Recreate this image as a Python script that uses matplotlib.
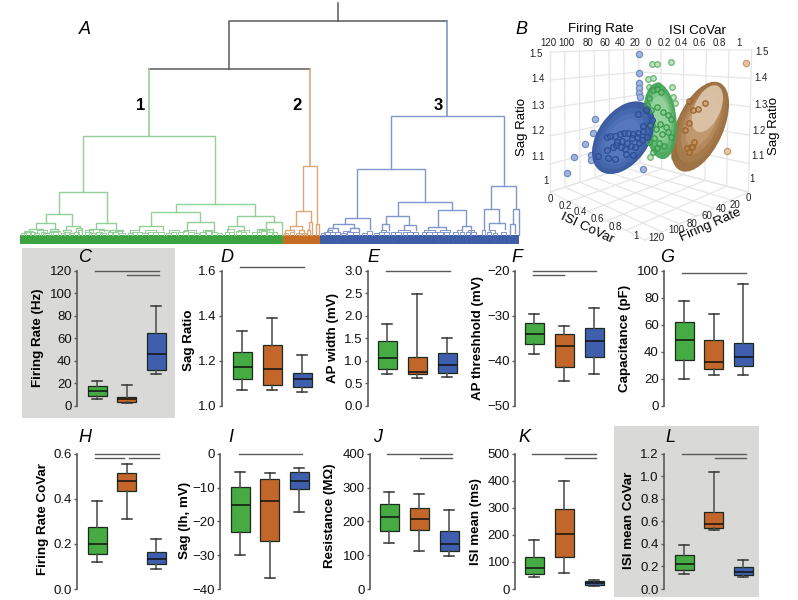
import numpy as np
import matplotlib
matplotlib.use('Agg')
import matplotlib.pyplot as plt
from matplotlib.patches import Ellipse, Rectangle

plt.rcParams['font.family'] = ['Liberation Sans', 'DejaVu Sans']

GREEN = '#45ab42'
ORANGE = '#c2662a'
BLUE = '#3f5fae'
GREEN_L = '#93cf98'
ORANGE_L = '#dca878'
BLUE_L = '#7f97cb'
GREY = '#5a5a5a'
PANEL_GREY = '#d9d9d8'

# box stats, one row per cluster: whisker low, q1, median, q3, whisker high
firing_rate = [[6.2, 9.2, 13.3, 17.4, 21.9], [2.7, 3.8, 6, 8, 18.9], [28.4, 32.2, 46.4, 64.4, 88.7]]
sag_ratio = [[1.069, 1.118, 1.173, 1.241, 1.331], [1.071, 1.093, 1.164, 1.272, 1.392], [1.062, 1.086, 1.118, 1.146, 1.228]]
ap_width = [[0.72, 0.83, 1.07, 1.45, 1.81], [0.61, 0.72, 0.75, 1.09, 2.48], [0.64, 0.74, 0.90, 1.17, 1.5]]
ap_threshold = [[-38.5, -36.3, -34, -31.5, -29.5], [-44.4, -41.3, -36.8, -34.1, -32.2], [-42.8, -39.1, -35.6, -32.6, -28.2]]
capacitance = [[20, 34, 48.5, 62.3, 77.6], [22.7, 27, 32.8, 49, 67.7], [23.2, 29.3, 36.5, 46.6, 90]]
fr_covar = [[0.121, 0.157, 0.2, 0.273, 0.39], [0.309, 0.436, 0.477, 0.513, 0.556], [0.09, 0.109, 0.132, 0.164, 0.223]]
sag_ih = [[-29.9, -23.2, -15.1, -9.7, -5.4], [-36.7, -25.7, -14.1, -7.5, -5.6], [-17.3, -10.5, -8.1, -5.4, -4.1]]
resistance = [[137, 172, 212, 251, 288], [112, 173, 206, 238, 281], [97, 112, 132, 170, 233]]
isi_mean = [[46, 55, 76, 117, 180], [59, 119, 202, 294, 399], [11, 16, 23, 30, 34]]
isi_covar = [[0.13, 0.171, 0.219, 0.304, 0.387], [0.52, 0.541, 0.576, 0.683, 1.04], [0.103, 0.124, 0.154, 0.192, 0.254]]

# letter, label, stats, ytick values, ytick labels, spine x, first box x, last box x, row, label x, label y
panels = [
    ('C', 'Firing Rate (Hz)', firing_rate, [0, 20, 40, 60, 80, 100, 120], ['0', '20', '40', '60', '80', '100', '120'], 77, 97, 156, 0, 38, 338),
    ('D', 'Sag Ratio', sag_ratio, [1.0, 1.2, 1.4, 1.6], ['1.0', '1.2', '1.4', '1.6'], 222, 242, 302, 0, 189, 340),
    ('E', 'AP width (mV)', ap_width, [0, 0.5, 1, 1.5, 2, 2.5, 3], ['0.0', '0.5', '1.0', '1.5', '2.0', '2.5', '3.0'], 368, 387, 447, 0, 333, 338),
    ('F', 'AP threshhold (mV)', ap_threshold, [-50, -40, -30, -20], ['\u221250', '\u221240', '\u221230', '\u221220'], 515, 534, 594, 0, 478, 338),
    ('G', 'Capacitance (pF)', capacitance, [0, 20, 40, 60, 80, 100], ['0', '20', '40', '60', '80', '100'], 664, 684, 743, 0, 625, 338),
    ('H', 'Firing Rate CoVar', fr_covar, [0, 0.2, 0.4, 0.6], ['0.0', '0.2', '0.4', '0.6'], 77, 97, 156, 1, 43, 519),
    ('I', 'Sag (Ih, mV)', sag_ih, [-40, -30, -20, -10, 0], ['\u221240', '\u221230', '\u221220', '\u221210', '0'], 220, 240, 299, 1, 185, 520),
    ('J', 'Resistance (M\u03a9)', resistance, [0, 100, 200, 300, 400], ['0', '100', '200', '300', '400'], 370, 389, 449, 1, 330, 516),
    ('K', 'ISI mean (ms)', isi_mean, [0, 100, 200, 300, 400, 500], ['0', '100', '200', '300', '400', '500'], 515, 534, 594, 1, 476, 522),
    ('L', 'ISI mean CoVar', isi_covar, [0, 0.2, 0.4, 0.6, 0.8, 1, 1.2], ['0.0', '0.2', '0.4', '0.6', '0.8', '1.0', '1.2'], 664, 684, 743, 1, 629, 520),
]
panel_letter_x = {'C': 85, 'D': 227, 'E': 373, 'F': 517, 'G': 667, 'H': 85, 'I': 231, 'J': 378, 'K': 524, 'L': 670}
row_top = [270.7, 453.7]
row_bottom = [406, 589]

# significance bars: x0, x1, y
sig_lines = [
    (95, 159, 270.7), (127, 159, 275), (240, 304, 267), (386, 450, 271),
    (532.5, 596, 271), (533, 564, 275), (682, 746, 273),
    (95, 159, 454), (95, 124, 457.8), (129, 159, 457.8), (239, 302, 454),
    (387, 452, 454), (420, 452, 458), (532, 596, 454), (565, 596, 458),
    (682, 746, 453.7), (715, 746, 457.7),
]

# dendrogram links: x left, x right, top, bottom of left leg, bottom of right leg
green_links = [
    (245, 636, 408, 577, 613), (174, 315, 577, 643, 668), (135, 214, 643, 670, 677),
    (107, 163, 670, 687, 687), (85, 127, 687, 693, 693), (148, 170, 687, 693, 693),
    (195, 235, 677, 689, 685), (186, 210, 689, 693, 693), (225, 242, 685, 693, 704),
    (284, 343, 668, 687, 690), (262, 307, 687, 693, 693), (325, 363, 690, 694, 694),
    (519, 753, 613, 637, 647), (445, 592, 637, 677, 667), (410, 482, 677, 690, 690),
    (552, 632, 667, 687, 692), (699, 810, 647, 677, 667), (675, 722, 677, 690, 692),
    (785, 833, 667, 688, 704), (760, 808, 688, 694, 694),
]
orange_links = [
    (896, 937, 497, 634, 672), (875, 918, 634, 677, 667), (856, 893, 677, 690, 690),
    (843, 868, 690, 704, 696), (885, 898, 690, 704, 704), (912, 923, 667, 689, 704),
    (907, 917, 689, 704, 704), (933, 942, 672, 704, 704),
]
blue_links = [
    (1156, 1488, 347, 508, 558), (1056, 1255, 508, 653, 607), (1020, 1092, 653, 672, 686),
    (985, 1047, 672, 684, 684), (970, 1000, 684, 693, 693), (1035, 1060, 684, 693, 693),
    (1175, 1335, 607, 647, 631), (1140, 1210, 647, 673, 675), (1128, 1150, 673, 690, 690),
    (1195, 1228, 675, 690, 690), (1295, 1378, 631, 680, 678), (1265, 1318, 680, 690, 690),
    (1365, 1392, 678, 690, 692), (1451, 1525, 558, 626, 628), (1429, 1474, 626, 690, 668),
    (1445, 1492, 668, 690, 688), (1515, 1533, 628, 672, 704), (1508, 1523, 672, 704, 700),
]
# small lowest merges: x left, x right, top (legs run down to the leaf bar)
green_tufts = [
    (62, 78, 699), (72, 92, 696), (90, 104, 697), (100, 116, 698), (120, 132, 696), (128, 146, 699),
    (144, 156, 696), (152, 172, 697), (180, 192, 698), (188, 206, 697), (204, 220, 698), (220, 232, 696),
    (230, 242, 690), (250, 268, 696), (262, 280, 698), (284, 300, 696), (296, 314, 698), (318, 334, 697),
    (330, 350, 696), (352, 368, 698), (378, 392, 698), (390, 406, 695), (404, 420, 696), (420, 438, 698),
    (436, 452, 695), (452, 468, 697), (468, 486, 696), (492, 506, 698), (506, 520, 695), (526, 540, 697),
    (540, 556, 694), (556, 572, 696), (572, 588, 698), (592, 610, 696), (606, 626, 694), (624, 642, 696),
    (640, 656, 698), (664, 678, 695), (678, 692, 697), (696, 712, 694), (712, 728, 697), (744, 758, 697),
    (758, 772, 695), (772, 788, 694), (786, 804, 697), (806, 820, 696),
]
orange_tufts = [(840, 850, 698), (858, 870, 696), (874, 888, 698), (893, 903, 699)]
blue_tufts = [
    (948, 960, 699), (958, 974, 696), (974, 990, 697), (990, 1006, 696), (1008, 1022, 698), (1026, 1042, 696),
    (1044, 1060, 697), (1070, 1084, 698), (1084, 1098, 692), (1106, 1120, 698), (1120, 1134, 695), (1136, 1150, 697),
    (1154, 1168, 695), (1168, 1184, 697), (1190, 1204, 696), (1204, 1220, 697), (1220, 1236, 695), (1246, 1260, 697),
    (1260, 1276, 695), (1276, 1292, 696), (1292, 1308, 697), (1312, 1326, 696), (1340, 1354, 697), (1358, 1372, 695),
    (1376, 1390, 697), (1392, 1408, 696), (1425, 1433, 690), (1440, 1452, 697), (1456, 1470, 698), (1480, 1496, 696),
]
# second layer of small merges, legs run down to the first layer
green_mid = [
    (70, 98, 692), (110, 138, 691), (150, 176, 693), (250, 275, 690), (292, 322, 691), (340, 360, 692),
    (385, 412, 691), (428, 462, 690), (498, 530, 691), (545, 580, 690), (600, 632, 689), (670, 690, 688),
    (704, 735, 689), (765, 795, 690),
]
blue_mid = [
    (965, 982, 691), (1015, 1035, 692), (1125, 1142, 690), (1176, 1212, 691), (1254, 1284, 689),
    (1300, 1330, 690), (1350, 1365, 691), (1384, 1400, 691), (1448, 1464, 691),
]
# leaves per cluster in the coloured bar: bar starts and ends
leaf_counts = [94, 13, 71]
bar_edges = [60, 835, 945, 1533]

blue_out_x = [418, 418, 417, 417, 417, 420, 285, 278, 254, 222, 201, 272, 274, 430]
blue_out_y = [132, 188, 218, 235, 248, 262, 328, 368, 403, 442, 489, 435, 450, 478]
blue_in_x = [415, 437, 320, 330, 345, 360, 372, 385, 400, 415, 428, 440, 352, 365, 380, 395, 410, 425,
             338, 348, 362, 375, 392, 405, 322, 325, 345, 378, 295, 430, 450, 455, 418, 400]
blue_in_y = [312, 300, 382, 378, 378, 372, 368, 368, 372, 368, 362, 380, 395, 392, 398, 385, 382, 390,
             410, 405, 412, 418, 408, 412, 420, 445, 447, 432, 438, 348, 345, 330, 398, 435]
green_out_x = [455, 470, 512, 443, 458, 516, 475, 448, 520, 525, 538, 525, 535, 542, 522, 450]
green_out_y = [163, 162, 155, 208, 205, 230, 225, 232, 262, 280, 368, 412, 430, 445, 440, 440]
green_in_x = [460, 470, 482, 448, 440, 452, 470, 490, 505, 512, 480, 498, 468, 455, 485, 505, 478, 462, 448, 470, 492, 512, 458]
green_in_y = [240, 238, 245, 265, 285, 300, 290, 305, 315, 328, 342, 350, 358, 345, 372, 365, 398, 385, 395, 415, 408, 380, 425]
orange_out_x = [739, 681]
orange_out_y = [158, 422]
orange_in_x = [566, 615, 578, 595, 566, 556, 583, 573, 562, 575, 567]
orange_in_y = [273, 278, 300, 297, 340, 360, 397, 410, 415, 412, 425]

fire_top_ticks = [120, 100, 80, 60, 40, 20, 0]
isi_ticks = [0, 0.2, 0.4, 0.6, 0.8, 1]
sag_ticks = [1, 1.1, 1.2, 1.3, 1.4, 1.5]


def bilinear(p00, p10, p01, p11, u, v):
    p00, p10, p01, p11 = map(np.array, (p00, p10, p01, p11))
    return (1 - v) * ((1 - u) * p00 + u * p10) + v * ((1 - u) * p01 + u * p11)


def wall_grid(ax, p00, p10, p01, p11, n_u, n_v):
    # light grid on one face of the 3D box
    for u in np.linspace(0, 1, n_u):
        a, b = bilinear(p00, p10, p01, p11, u, 0), bilinear(p00, p10, p01, p11, u, 1)
        ax.plot([a[0], b[0]], [a[1], b[1]], color='#e6e6e6', lw=0.9, zorder=1)
    for v in np.linspace(0, 1, n_v):
        a, b = bilinear(p00, p10, p01, p11, 0, v), bilinear(p00, p10, p01, p11, 1, v)
        ax.plot([a[0], b[0]], [a[1], b[1]], color='#e6e6e6', lw=0.9, zorder=1)


def draw_links(ax, links, color, lw=1.0):
    for xl, xr, top, bl, br in links:
        ax.plot([xl, xl, xr, xr], [bl, top, top, br], color=color, lw=lw, solid_joinstyle='miter')


def draw_tufts(ax, tufts, color, base=704):
    for xl, xr, top in tufts:
        ax.plot([xl, xl, xr, xr], [base, top, top, base], color=color, lw=0.7)


def shaded_ellipse(ax, center, width, height, angle, colors, drift, z):
    # stacked ellipses stand in for the shading of the 3D surface
    ax.add_patch(Ellipse(center, width, height, angle=angle, facecolor=colors[0], edgecolor=colors[0],
                         lw=0.8, alpha=0.95, zorder=z))
    for k, col in enumerate(colors[1:], start=1):
        f = 1 - 0.14 * k
        c = (center[0] + drift[0] * k, center[1] + drift[1] * k)
        ax.add_patch(Ellipse(c, width * f, height * f, angle=angle, facecolor=col, lw=0, alpha=0.85, zorder=z))


fig = plt.figure(figsize=(7.98, 6.0), dpi=100)
W, H = 798.0, 600.0

# full figure layer in pixel coordinates
bg = fig.add_axes([0, 0, 1, 1])
bg.set_xlim(0, W)
bg.set_ylim(H, 0)
bg.axis('off')
bg.add_patch(Rectangle((22, 248), 153, 170, color=PANEL_GREY, lw=0))
bg.add_patch(Rectangle((614, 426), 145, 171, color=PANEL_GREY, lw=0))

for x0, x1, y in sig_lines:
    bg.plot([x0, x1], [y, y], color=GREY, lw=1.0)

bg.text(85, 30, 'A', fontsize=13, style='italic', ha='center', va='center')
bg.text(521, 30, 'B', fontsize=13, style='italic', ha='center', va='center')

# panel A, dendrogram
dend = fig.add_axes([0, 1 - 250 / H, 530 / W, 250 / H])
dend.set_xlim(0, 530 * 2.955)
dend.set_ylim(750, 0)
dend.axis('off')
dend.patch.set_alpha(0)
dend.plot([1000, 1000], [8, 62], color=GREY, lw=1.1)
dend.plot([678, 678, 1322], [208, 62, 62], color=GREY, lw=1.1)
dend.plot([441, 916], [208, 208], color=GREY, lw=1.1)
dend.plot([1322, 1322], [62, 347], color=BLUE_L, lw=1.2)
dend.plot([441, 441], [208, 408], color=GREEN_L, lw=1.2)
dend.plot([916, 916], [208, 497], color=ORANGE_L, lw=1.2)
draw_links(dend, green_links, GREEN_L)
draw_links(dend, orange_links, ORANGE_L)
draw_links(dend, blue_links, BLUE_L)
draw_tufts(dend, green_mid, GREEN_L, base=697)
draw_tufts(dend, blue_mid, BLUE_L, base=697)
draw_tufts(dend, green_tufts, GREEN_L)
draw_tufts(dend, orange_tufts, ORANGE_L)
draw_tufts(dend, blue_tufts, BLUE_L)
for n, c0, c1, col in zip(leaf_counts, bar_edges[:-1], bar_edges[1:], ['#38a23e', '#c4691f', '#3b5aa6']):
    edges = np.linspace(c0, c1, n + 1)
    dend.bar(edges[:-1], 27, width=np.diff(edges), bottom=704, align='edge', color=col,
             edgecolor='#ffffff18', lw=0.3)
dend.text(416, 316, '1', fontsize=12, fontweight='bold', ha='center', va='center')
dend.text(879, 316, '2', fontsize=12, fontweight='bold', ha='center', va='center')
dend.text(1295, 316, '3', fontsize=12, fontweight='bold', ha='center', va='center')

# panel B, 3D view drawn flat
box3d = fig.add_axes([500 / W, 1 - 250 / H, 298 / W, 240 / H])
box3d.set_xlim(0, 894)
box3d.set_ylim(720, 0)
box3d.axis('off')
box3d.patch.set_alpha(0)
L_top, L_bot = (150, 126), (150, 546)
B_top, B_bot = (415, 118), (420, 459)
R_top, R_bot = (755, 120), (745, 546)
F_bot = (435, 690)
wall_grid(box3d, L_top, B_top, L_bot, B_bot, len(fire_top_ticks), len(sag_ticks))
wall_grid(box3d, B_top, R_top, B_bot, R_bot, len(isi_ticks), len(sag_ticks))
wall_grid(box3d, L_bot, B_bot, F_bot, R_bot, len(fire_top_ticks), len(isi_ticks))

box3d.scatter(blue_out_x, blue_out_y, s=20, facecolor='#a3b5da', edgecolor='#6f8bc2', lw=0.9, zorder=3)
box3d.scatter(green_out_x, green_out_y, s=16, facecolor='#bfe2c1', edgecolor='#6cb573', lw=0.9, zorder=3)
box3d.scatter(orange_out_x, orange_out_y, s=20, facecolor='#e6c6a5', edgecolor='#c79a6c', lw=0.9, zorder=3)

shaded_ellipse(box3d, (600, 350), 285, 137, -66,
               ['#996c3c', '#a97c4d', '#b68b5e', '#c39c72'], (2, -6), 4)
box3d.add_patch(Ellipse((622, 296), 150, 78, angle=-66, facecolor='#dcc3a8', lw=0, alpha=0.95, zorder=4))

shaded_ellipse(box3d, (480, 333), 226, 96, -95,
               ['#46a65a', '#66b974', '#82c98c', '#98d5a0'], (0, -3), 5)

shaded_ellipse(box3d, (370, 383), 240, 150, -55,
               ['#35559f', '#456ab0', '#4f72b8', '#5879bd'], (-1, 2), 6)

box3d.scatter(green_in_x, green_in_y, s=15, facecolor='#6fc07a55', edgecolor='#379a4b', lw=0.9, zorder=7)
box3d.scatter(orange_in_x, orange_in_y, s=15, facecolor='#c58a4f77', edgecolor='#98642c', lw=0.9, zorder=7)
box3d.scatter(blue_in_x, blue_in_y, s=17, facecolor='#4d6cb344', edgecolor='#2c4c96', lw=0.9, zorder=8)

tick_kw = dict(fontsize=7, ha='center', va='center', color='#222222')
for lab, x in zip(['120', '100', '80', '60', '40', '20'], [146, 198, 265, 315, 362, 405]):
    box3d.text(x, 100, lab, **tick_kw)
for lab, x in zip(['0', '0.2', '0.4', '0.6', '0.8', '1'], [445, 492, 543, 598, 658, 716]):
    box3d.text(x, 100, lab, **tick_kw)
for lab, x, y in zip(['1.5', '1.4', '1.3', '1.2', '1.1', '1'], [108, 113, 113, 113, 113, 137], [132, 208, 287, 362, 440, 512]):
    box3d.text(x, y, lab, **tick_kw)
for lab, x, y in zip(['1.5', '1.4', '1.3', '1.2', '1.1', '1'], [785, 782, 782, 778, 775, 757], [125, 205, 285, 362, 437, 508]):
    box3d.text(x, y, lab, **tick_kw)
for lab, x, y in zip(['0', '0.2', '0.4', '0.6', '0.8', '1'], [150, 195, 240, 292, 347, 407], [568, 588, 607, 628, 652, 677]):
    box3d.text(x, y, lab, **tick_kw)
for lab, x, y in zip(['120', '100', '80', '60', '40', '20', '0'], [468, 528, 577, 622, 663, 705, 744], [683, 660, 641, 617, 597, 585, 563]):
    box3d.text(x, y, lab, **tick_kw)
box3d.text(303, 57, 'Firing Rate', fontsize=9.6, ha='center', va='center')
box3d.text(592, 62, 'ISI CoVar', fontsize=9.6, ha='center', va='center')
box3d.text(65, 350, 'Sag Ratio', fontsize=9.5, rotation=90, ha='center', va='center')
box3d.text(822, 348, 'Sag Ratio', fontsize=9.5, rotation=90, ha='center', va='center')
box3d.text(262, 655, 'ISI CoVar', fontsize=9.6, rotation=-25, ha='center', va='center', rotation_mode='anchor')
box3d.text(632, 645, 'Firing Rate', fontsize=9.6, rotation=24, ha='center', va='center', rotation_mode='anchor')

# panels C to L, boxplots
box_colors = [GREEN, ORANGE, BLUE]
for letter, label, stats, yt, ytl, sx, b1, b3, row, lx, ly in panels:
    top, bottom = row_top[row], row_bottom[row]
    spacing = (b3 - b1) / 2.0
    width_px = 100.0
    ax = fig.add_axes([sx / W, 1 - bottom / H, width_px / W, (bottom - top) / H])
    ax.patch.set_alpha(0)
    left = 1 + (sx - b1) / spacing
    ax.set_xlim(left, left + width_px / spacing)
    ax.set_ylim(yt[0], yt[-1])
    bxp_stats = [dict(whislo=s[0], q1=s[1], med=s[2], q3=s[3], whishi=s[4], fliers=[]) for s in stats]
    art = ax.bxp(bxp_stats, positions=[1, 2, 3], widths=19 / spacing, capwidths=10 / spacing,
                 showfliers=False, patch_artist=True,
                 boxprops=dict(edgecolor='#1d2a1d', lw=0.9),
                 medianprops=dict(color='#111111', lw=1.1),
                 whiskerprops=dict(color='#555555', lw=1.2),
                 capprops=dict(color='#333333', lw=1.1))
    for patch, col in zip(art['boxes'], box_colors):
        patch.set_facecolor(col)
    for side in ['top', 'right', 'bottom']:
        ax.spines[side].set_visible(False)
    ax.spines['left'].set_color(GREY)
    ax.spines['left'].set_linewidth(1.2)
    ax.set_xticks([])
    ax.set_yticks(yt)
    ax.set_yticklabels(ytl, fontsize=9.5, color='#111111')
    ax.tick_params(axis='y', length=2.5, width=1, color=GREY, pad=1.2)
    bg.text(lx, ly, label, fontsize=9.6, fontweight='bold', rotation=90, ha='center', va='center')
    bg.text(panel_letter_x[letter], 257 if row == 0 else 438, letter, fontsize=13, style='italic',
            ha='center', va='center')

fig.savefig('out.png', dpi=100, facecolor='white')
